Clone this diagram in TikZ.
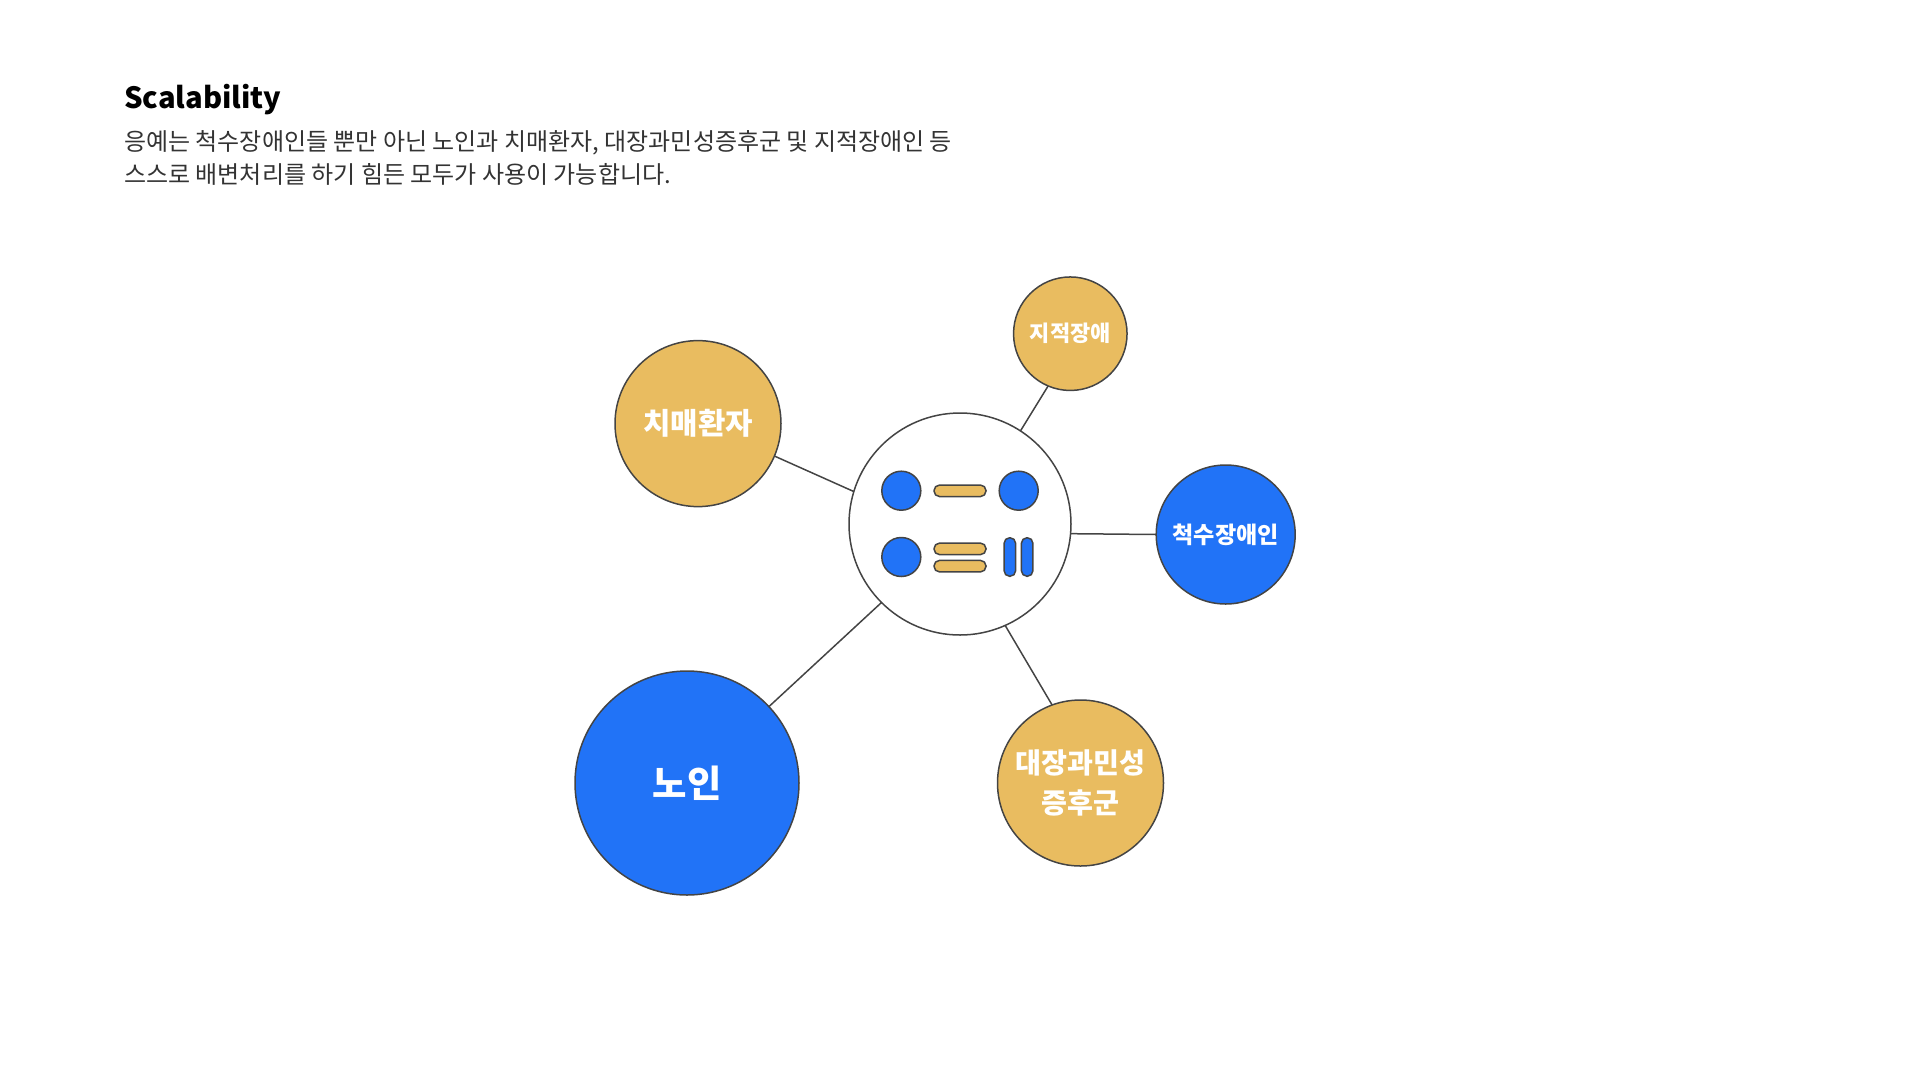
\documentclass[tikz,border=0pt]{standalone}
\usepackage{fontspec}
\setmainfont{Noto Sans CJK KR}
\usepackage{xcolor}
\usetikzlibrary{positioning}
\definecolor{hubblue}{RGB}{33,115,247}
\definecolor{hubgold}{RGB}{233,188,96}
\definecolor{edgegray}{RGB}{68,68,68}
\definecolor{bodygray}{RGB}{51,51,51}

\begin{document}
\begin{tikzpicture}[
    x=1pt, y=1pt,
    on grid,
    bubble/.style={circle, draw=edgegray, line width=1.5pt, inner sep=0pt, outer sep=0pt, text=white, align=center},
    dot/.style={circle, draw=edgegray, fill=hubblue, line width=1.5pt, inner sep=0pt, outer sep=0pt, minimum size=39pt},
    pill/.style={draw=edgegray, fill=hubgold, line width=1.5pt, rounded corners=5.5pt, inner sep=0pt, outer sep=0pt, minimum width=52pt, minimum height=11.5pt},
    barpill/.style={draw=edgegray, fill=hubblue, line width=1.5pt, rounded corners=5.5pt, inner sep=0pt, outer sep=0pt, minimum width=11.5pt, minimum height=38.5pt},
    link/.style={draw=edgegray, line width=1.5pt}
]
  \useasboundingbox (0,0) rectangle (1920,-1080);

  % Heading (TOP LEFT)
  \node[anchor=west, inner sep=0pt, font=\fontsize{29.2}{36}\selectfont\bfseries, text=black] (title) at (124,-100) {Scalability};
  \node[anchor=west, inner sep=0pt, align=left, text=bodygray, font=\fontsize{24}{32.6}\selectfont] (body) at (124,-158)
      {응예는 척수장애인들 뿐만 아닌 노인과 치매환자, 대장과민성증후군 및 지적장애인 등\\스스로 배변처리를 하기 힘든 모두가 사용이 가능합니다.};

  % Central circle
  \node[bubble, fill=white, minimum size=222pt] (hub) at (960,-524) {};

  % Outer circles
  \node[bubble, fill=hubgold, minimum size=166pt, above left=100.4pt and 262pt of hub, font=\fontsize{29.8}{34}\selectfont\bfseries] (dementia) {치매환자};
  \node[bubble, fill=hubgold, minimum size=113.5pt, above right=190.3pt and 110.3pt of hub, font=\fontsize{22}{26}\selectfont\bfseries] (intellect) {지적장애};
  \node[bubble, fill=hubblue, minimum size=139pt, below right=10.5pt and 265.7pt of hub, font=\fontsize{23.1}{28}\selectfont\bfseries] (spinal) {척수장애인};
  \node[bubble, fill=hubgold, minimum size=166pt, below right=259pt and 120.5pt of hub, font=\fontsize{28.2}{40}\selectfont\bfseries] (bowel) {대장과민성\\증후군};
  \node[bubble, fill=hubblue, minimum size=224pt, below left=259pt and 273pt of hub, font=\fontsize{37.4}{44}\selectfont\bfseries] (elder) {노인};

  % Icon inside the central circle
  \node[dot, above left=33.3pt and 58.7pt of hub] (dotA) {};
  \node[dot, above right=33.3pt and 58.7pt of hub] (dotB) {};
  \node[dot, below left=33pt and 58.7pt of hub] (dotC) {};
  \node[pill, above=33.2pt of hub] (pillA) {};
  \node[pill, below=24.85pt of hub] (pillB) {};
  \node[pill, below=42.15pt of hub] (pillC) {};
  \node[barpill, below right=33pt and 49.85pt of hub] (barA) {};
  \node[barpill, below right=33pt and 67.15pt of hub] (barB) {};

  % Links from the centre
  \draw[link] (hub.163.5) -- (dementia.-23.2);
  \draw[link] (hub.57.5) -- (intellect.-113);
  \draw[link] (hub.-5.43) -- (spinal.180);
  \draw[link] (hub.-66.4) -- (bowel.110.4);
  \draw[link] (hub.-135) -- (elder.43);

\end{tikzpicture}
\end{document}
